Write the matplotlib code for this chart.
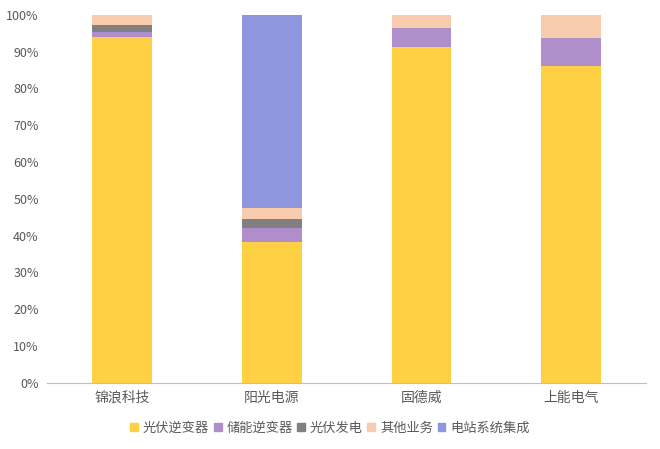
import matplotlib.pyplot as plt
from matplotlib.patches import Patch
from matplotlib.ticker import PercentFormatter

plt.rcParams['font.family'] = ['Noto Sans CJK SC', 'DejaVu Sans']

companies = ["锦浪科技", "阳光电源", "固德威", "上能电气"]
series_names = ["光伏逆变器", "储能逆变器", "光伏发电", "其他业务", "电站系统集成"]
pv_inverter = [94.0, 38.2, 91.3, 86.1]
storage_inverter = [1.4, 3.8, 5.2, 7.7]
pv_power = [2.0, 2.4, 0.0, 0.0]
other = [2.6, 3.2, 3.5, 6.2]
station = [0.0, 52.4, 0.0, 0.0]
colors = ["#FFCF44", "#B08ECC", "#808080", "#F8CBAD", "#8E96E0"]

values = [pv_inverter, storage_inverter, pv_power, other, station]

fig = plt.figure(figsize=(6.6, 4.49), dpi=100)
ax = fig.add_axes([0.0712, 0.1477, 0.9078, 0.819])

x = range(len(companies))
bottom = [0.0] * len(companies)
for vals, c in zip(values, colors):
    ax.bar(x, vals, width=0.4, bottom=bottom, color=c, linewidth=0)
    bottom = [b + v for b, v in zip(bottom, vals)]

ax.set_xlim(-0.5, len(companies) - 0.5)
ax.set_ylim(0, 100)
ax.set_yticks(range(0, 101, 10))
ax.yaxis.set_major_formatter(PercentFormatter(decimals=0))
ax.set_xticks(list(x))
ax.set_xticklabels(companies, fontsize=10, color="#595959")
ax.tick_params(axis="y", labelsize=9, labelcolor="#595959", length=0, pad=6)
ax.tick_params(axis="x", length=0, pad=6)
for s in ["top", "right", "left"]:
    ax.spines[s].set_visible(False)
ax.spines["bottom"].set_color("#BFBFBF")

handles = [Patch(color=c, label=n) for c, n in zip(colors, series_names)]
fig.legend(handles=handles, loc="center", bbox_to_anchor=(0.5, 0.046), ncol=5,
           frameon=False, fontsize=9.5, handlelength=0.6, handleheight=0.6,
           handletextpad=0.35, columnspacing=0.35, labelcolor="#595959")

fig.savefig("out.png", dpi=100)
